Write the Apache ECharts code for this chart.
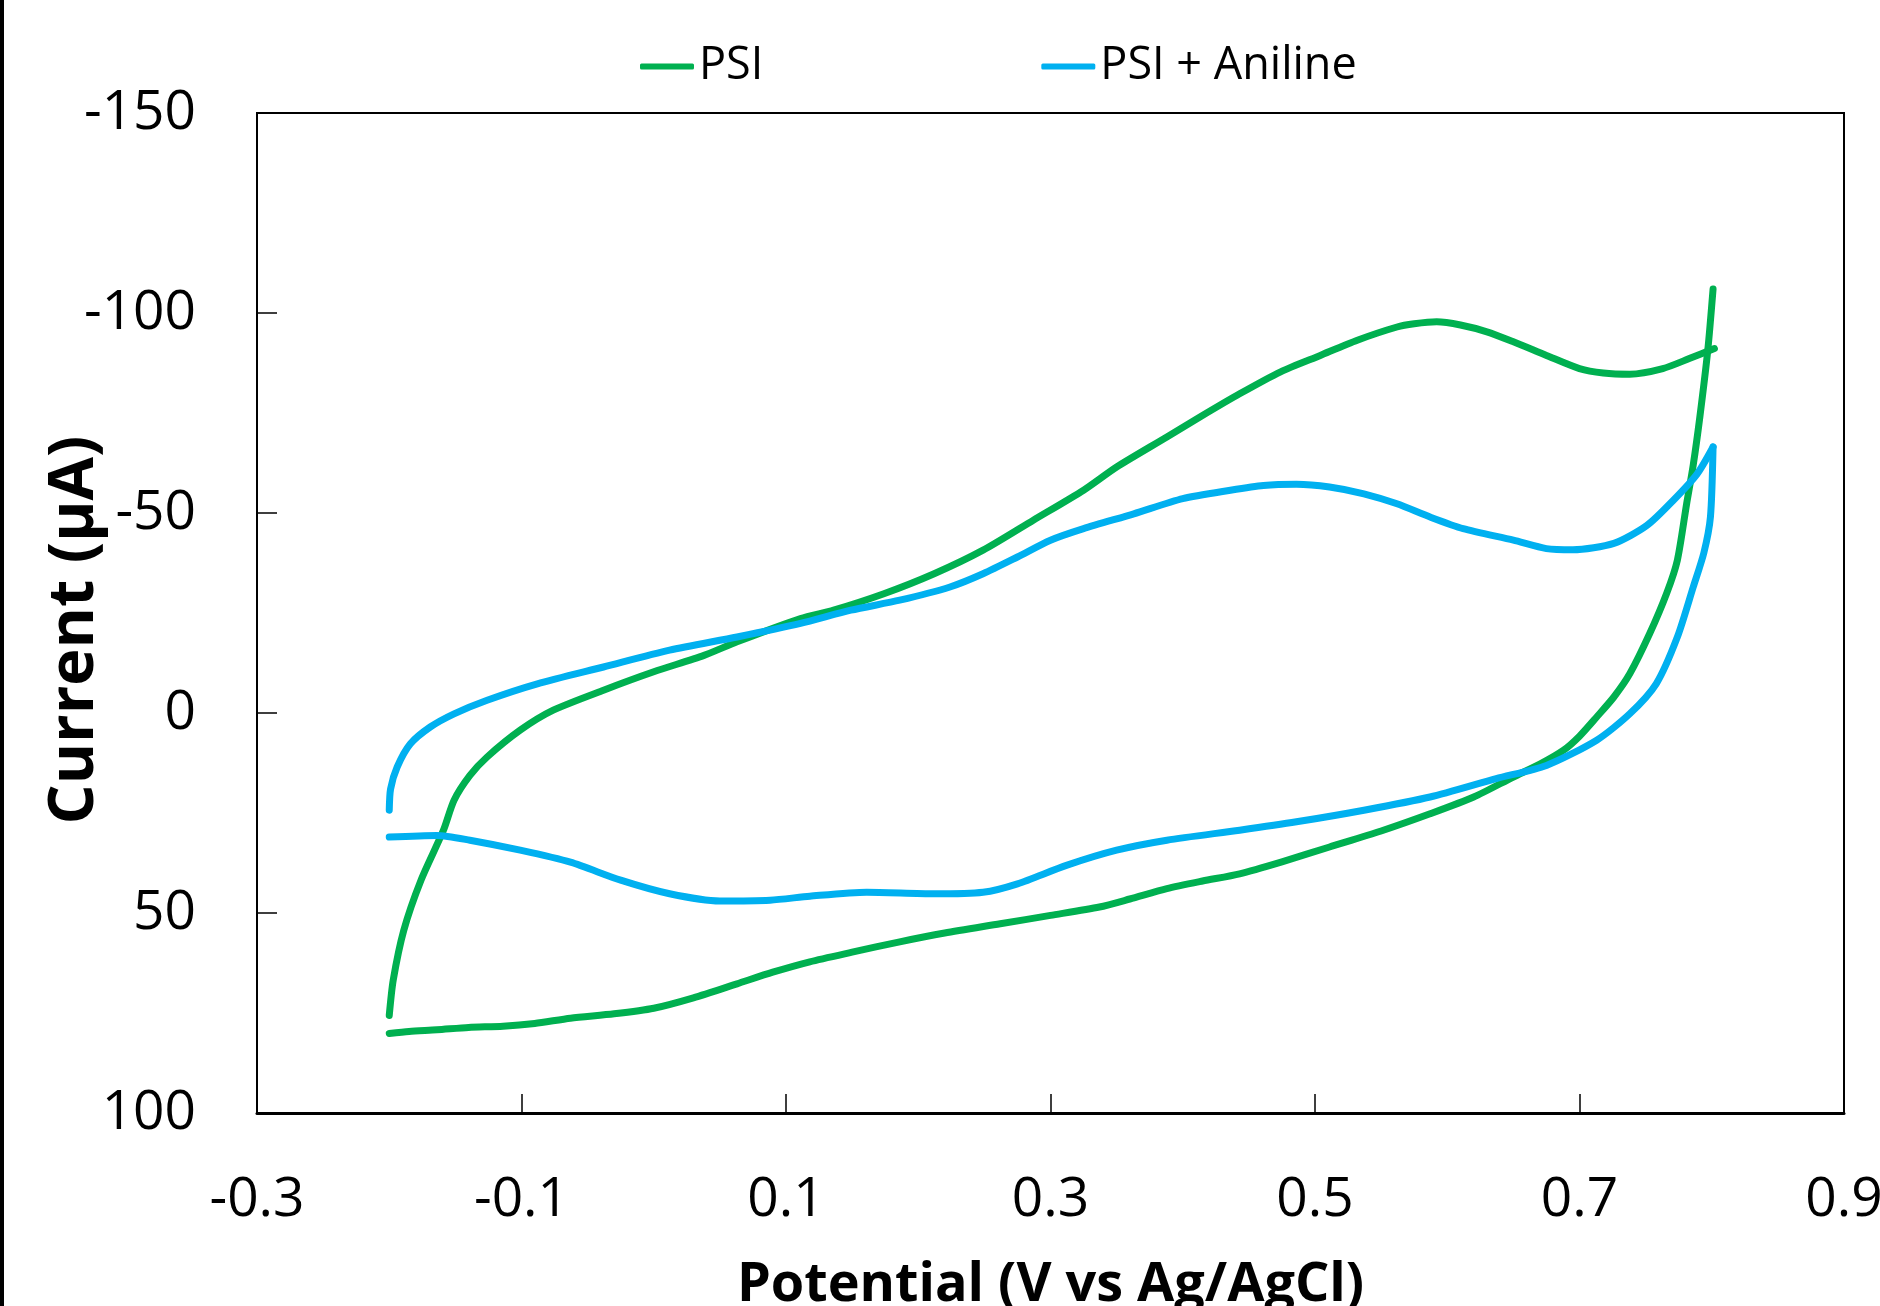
<!DOCTYPE html>
<html>
<head>
<meta charset="utf-8">
<script src="https://cdn.jsdelivr.net/npm/echarts@6/dist/echarts.min.js"></script>
<style>
html,body{margin:0;padding:0;background:#fff;}
#chart{width:1880px;height:1306px;}
</style>
</head>
<body>
<div id="chart"></div>
<script>
// Potential (V vs Ag/AgCl), Current (µA) pairs
const seriesNames = ['PSI', 'PSI + Aniline'];
const xTicks = ['-0.3', '-0.1', '0.1', '0.3', '0.5', '0.7', '0.9'];
const yTicks = ['-150', '-100', '-50', '0', '50', '100'];
const xTitle = 'Potential (V vs Ag/AgCl)';
const yTitle = 'Current (µA)';

const psiForward = [
  [-0.2, 80.1], [-0.185, 79.6], [-0.164, 79.2], [-0.14, 78.6], [-0.114, 78.3], [-0.09, 77.6],
  [-0.063, 76.3], [-0.03, 75.2], [0.0, 73.8], [0.03, 71.2], [0.063, 67.7], [0.09, 64.8],
  [0.118, 62.2], [0.15, 59.8], [0.186, 57.2], [0.22, 55.0], [0.262, 52.7], [0.3, 50.6],
  [0.337, 48.5], [0.36, 46.5], [0.388, 43.9], [0.415, 42.0], [0.443, 40.2], [0.475, 37.2],
  [0.511, 33.5], [0.55, 29.5], [0.587, 25.2], [0.62, 21.0], [0.65, 16.0], [0.67, 12.8],
  [0.688, 9.3], [0.70, 5.8], [0.713, 1.0], [0.726, -4.0], [0.738, -9.8], [0.753, -19.8],
  [0.766, -30.0], [0.774, -38.2], [0.781, -52.3], [0.786, -62.0], [0.791, -74.0],
  [0.797, -90.7], [0.801, -106.0]
];
const psiReverse = [
  [0.802, -91.1], [0.783, -88.6], [0.763, -86.1], [0.738, -84.7], [0.718, -85.0], [0.7, -86.1],
  [0.675, -89.4], [0.65, -92.8], [0.63, -95.3], [0.61, -97.0], [0.592, -97.8], [0.575, -97.3],
  [0.562, -96.5], [0.532, -93.2], [0.504, -89.4], [0.474, -85.3], [0.443, -79.8], [0.413, -74.0],
  [0.388, -69.0], [0.35, -61.5], [0.325, -55.7], [0.287, -48.2], [0.249, -40.7], [0.212, -34.8],
  [0.174, -29.8], [0.136, -25.7], [0.111, -23.6], [0.063, -17.8], [0.038, -14.4], [0.0, -10.3],
  [-0.038, -5.7], [-0.076, -0.7], [-0.101, 4.3], [-0.126, 11.0], [-0.139, 15.6], [-0.151, 21.8],
  [-0.159, 29.3], [-0.176, 41.8], [-0.189, 54.3], [-0.197, 66.8], [-0.2, 75.6]
];
const anilineForward = [
  [-0.2, 31.0], [-0.164, 30.6], [-0.139, 31.8], [-0.101, 34.3], [-0.063, 37.3], [-0.025, 41.8],
  [0.012, 45.2], [0.05, 47.0], [0.088, 46.8], [0.118, 45.8], [0.161, 44.8], [0.212, 45.2],
  [0.249, 44.8], [0.275, 42.7], [0.312, 38.1], [0.35, 34.3], [0.388, 31.8], [0.443, 29.3],
  [0.486, 27.2], [0.537, 24.3], [0.587, 21.0], [0.637, 16.4], [0.675, 13.1], [0.713, 6.8],
  [0.738, 0.2], [0.758, -7.3], [0.774, -19.0], [0.786, -31.5], [0.794, -40.0], [0.799, -49.0],
  [0.801, -66.5]
];
const anilineReverse = [
  [0.801, -66.5], [0.789, -59.8], [0.771, -53.2], [0.751, -46.9], [0.726, -42.4], [0.695, -40.8],
  [0.675, -41.1], [0.65, -43.2], [0.612, -46.1], [0.587, -49.0], [0.562, -52.3], [0.537, -54.8],
  [0.511, -56.5], [0.486, -57.2], [0.461, -56.9], [0.436, -55.7], [0.4, -53.6], [0.363, -49.8],
  [0.325, -46.1], [0.3, -43.2], [0.275, -39.0], [0.249, -34.8], [0.224, -31.5], [0.186, -28.2],
  [0.149, -25.7], [0.111, -22.4], [0.063, -19.0], [0.012, -15.7], [-0.038, -11.5], [-0.088, -7.3],
  [-0.126, -3.2], [-0.151, 0.2], [-0.169, 3.5], [-0.184, 7.7], [-0.194, 13.5], [-0.199, 19.0],
  [-0.2, 24.3]
];

const FONT = '"Open Sans", "Noto Sans", sans-serif';
const GREEN = '#00B050', BLUE = '#00B0F0';
function lineSeries(name, data, color) {
  return {
    name: name, type: 'line', data: data,
    showSymbol: false, symbol: 'none', smooth: 0.25,
    lineStyle: {color: color, width: 7, cap: 'round', join: 'round'},
    itemStyle: {color: color}
  };
}
const chart = echarts.init(document.getElementById('chart'), null, {renderer: 'canvas'});
chart.setOption({
  animation: false,
  backgroundColor: '#fff',
  textStyle: {fontFamily: FONT},
  graphic: [
    {type: 'rect', left: 0, top: 0, shape: {width: 4, height: 1306}, style: {fill: '#000'}, silent: true},
    {
      type: 'text', x: 75, y: 630, rotation: Math.PI / 2, silent: true,
      style: {text: yTitle, font: 'bold 63px ' + FONT, fill: '#000', align: 'center', verticalAlign: 'middle'}
    }
  ],
  legend: {
    left: 635, top: 39,
    icon: 'roundRect', itemWidth: 54, itemHeight: 6, itemGap: 278,
    textStyle: {fontFamily: FONT, fontSize: 45, color: '#000'},
    data: seriesNames
  },
  grid: {
    left: 257, right: 36, top: 113, bottom: 193,
    outerBoundsMode: 'none', containLabel: false,
    show: true, borderColor: '#000', borderWidth: 2, backgroundColor: 'transparent'
  },
  xAxis: {
    type: 'value', min: -0.3, max: 0.9, interval: 0.2,
    name: xTitle, nameLocation: 'middle', nameGap: 146,
    nameTextStyle: {fontFamily: FONT, fontSize: 54, fontWeight: 'bold', color: '#000'},
    axisLine: {show: true, onZero: false, lineStyle: {color: '#000', width: 3}},
    axisTick: {show: true, inside: true, length: 19, lineStyle: {color: '#000', width: 1.5}},
    axisLabel: {
      fontFamily: FONT, fontSize: 55, color: '#000', margin: 60,
      formatter: v => xTicks.find(t => Math.abs(parseFloat(t) - v) < 1e-6) || String(+v.toFixed(1))
    },
    splitLine: {show: false}
  },
  yAxis: {
    type: 'value', min: -150, max: 100, interval: 50, inverse: true,
    axisLine: {show: true, onZero: false, lineStyle: {color: '#000', width: 2}},
    axisTick: {show: true, inside: true, length: 20, lineStyle: {color: '#000', width: 1.5}},
    axisLabel: {
      fontFamily: FONT, fontSize: 55, color: '#000', margin: 61,
      formatter: v => yTicks.find(t => Math.abs(parseFloat(t) - v) < 1e-6) || String(v)
    },
    splitLine: {show: false}
  },
  series: [
    lineSeries(seriesNames[0], psiForward, GREEN),
    lineSeries(seriesNames[0], psiReverse, GREEN),
    lineSeries(seriesNames[1], anilineForward, BLUE),
    lineSeries(seriesNames[1], anilineReverse, BLUE)
  ]
});
</script>
</body>
</html>
